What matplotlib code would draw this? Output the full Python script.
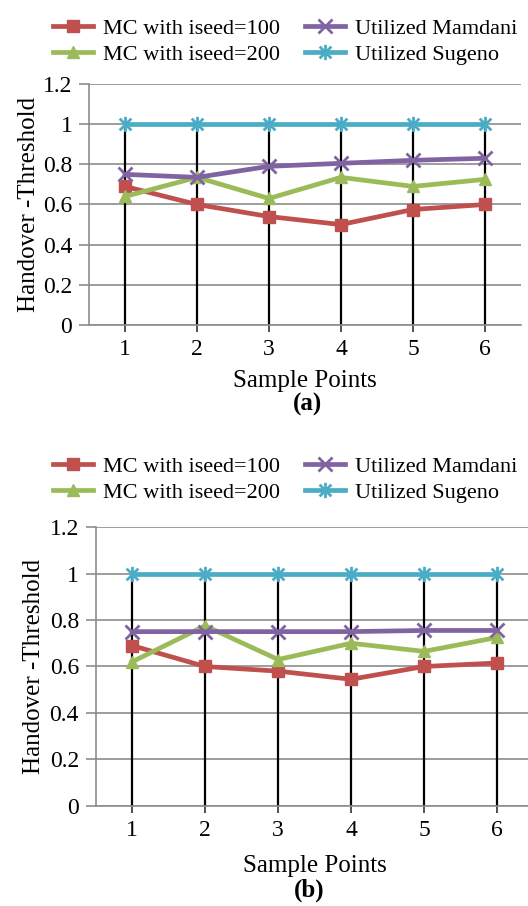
import matplotlib
matplotlib.use("Agg")
import matplotlib.pyplot as plt
from matplotlib.path import Path
import numpy as np

plt.rcParams['font.family'] = ['Liberation Serif', 'DejaVu Serif']

samples = [1, 2, 3, 4, 5, 6]
series_names = ["MC with iseed=100", "MC with iseed=200",
                "Utilized Mamdani", "Utilized Sugeno"]

# panel (a)
mc100_a = [0.69, 0.60, 0.54, 0.50, 0.575, 0.60]
mc200_a = [0.64, 0.735, 0.63, 0.735, 0.69, 0.725]
mamdani_a = [0.75, 0.735, 0.79, 0.805, 0.82, 0.83]
sugeno_a = [1.0, 1.0, 1.0, 1.0, 1.0, 1.0]

# panel (b)
mc100_b = [0.69, 0.60, 0.58, 0.545, 0.60, 0.615]
mc200_b = [0.62, 0.775, 0.63, 0.70, 0.665, 0.725]
mamdani_b = [0.75, 0.75, 0.75, 0.75, 0.755, 0.755]
sugeno_b = [1.0, 1.0, 1.0, 1.0, 1.0, 1.0]

yticks = [0, 0.2, 0.4, 0.6, 0.8, 1, 1.2]
ytick_labels = ["0", "0.2", "0.4", "0.6", "0.8", "1", "1.2"]

colors = ["#C0504D", "#9BBB59", "#8064A2", "#4BACC6"]

# star marker: an x with a vertical bar through it
star = Path([(-1, -1), (1, 1), (-1, 1), (1, -1), (0, -1.3), (0, 1.3)],
            [Path.MOVETO, Path.LINETO, Path.MOVETO, Path.LINETO,
             Path.MOVETO, Path.LINETO])
markers = ["s", "^", "x", star]
msizes = [8, 8, 10, 11]

TICK_FS = 17
LEG_FS = 16
LABEL_FS = 18

fig = plt.figure(figsize=(5.28, 9.06), dpi=100)


def draw_panel(rect, data, legend_xy, ylabel_pad, xlabel_pad):
    ax = fig.add_axes(rect)
    ax.set_xlim(0.5, 6.5)
    ax.set_ylim(0, 1.2)
    top = np.max(np.array(data), axis=0)
    ax.vlines(samples, 0, top, colors="black", linewidth=1.6, zorder=2)
    handles = []
    for vals, c, m, ms, name in zip(data, colors, markers, msizes, series_names):
        h, = ax.plot(samples, vals, color=c, linewidth=3.4, marker=m,
                     markersize=ms,
                     markeredgewidth=2 if (m == "x" or m is star) else 1,
                     markeredgecolor=c, markerfacecolor=c, label=name, zorder=3)
        handles.append(h)
    ax.set_yticks(yticks)
    ax.set_yticklabels(ytick_labels, fontsize=TICK_FS)
    ax.set_xticks(samples)
    ax.set_xticklabels([str(s) for s in samples], fontsize=TICK_FS)
    ax.yaxis.grid(True, color="#8C8C8C", linewidth=1.2)
    ax.set_axisbelow(True)
    for s in ("top", "right"):
        ax.spines[s].set_visible(False)
    for s in ("left", "bottom"):
        ax.spines[s].set_color("#8C8C8C")
        ax.spines[s].set_linewidth(1.2)
    ax.tick_params(axis="y", length=7, color="#8C8C8C", width=1.2, pad=5)
    ax.tick_params(axis="x", length=5, color="#333333", width=1.2, pad=5)
    ax.set_xlabel("Sample Points", fontsize=LABEL_FS, labelpad=xlabel_pad)
    ax.set_ylabel("Handover -Threshold", fontsize=LABEL_FS, labelpad=ylabel_pad)
    fig.legend(handles=handles, loc="upper left",
               bbox_to_anchor=legend_xy, ncol=2, frameon=False,
               fontsize=LEG_FS, handlelength=1.8, handletextpad=0.45,
               columnspacing=1.15, labelspacing=0.25, borderpad=0,
               borderaxespad=0)
    return ax


ax_a = draw_panel([0.1686, 0.6413, 0.818, 0.266],
                  [mc100_a, mc200_a, mamdani_a, sugeno_a],
                  (0.100, 0.980), 2, 7)
ax_b = draw_panel([0.181, 0.1104, 0.8295, 0.3079],
                  [mc100_b, mc200_b, mamdani_b, sugeno_b],
                  (0.100, 0.4967), 3, 10)

fig.text(308 / 528, 1 - 404 / 906, "(a)", fontsize=LABEL_FS, fontweight="bold",
         ha="center", va="center")
fig.text(309 / 528, 1 - 890 / 906, "(b)", fontsize=LABEL_FS, fontweight="bold",
         ha="center", va="center")

fig.savefig("out.png", dpi=100, facecolor="white")
